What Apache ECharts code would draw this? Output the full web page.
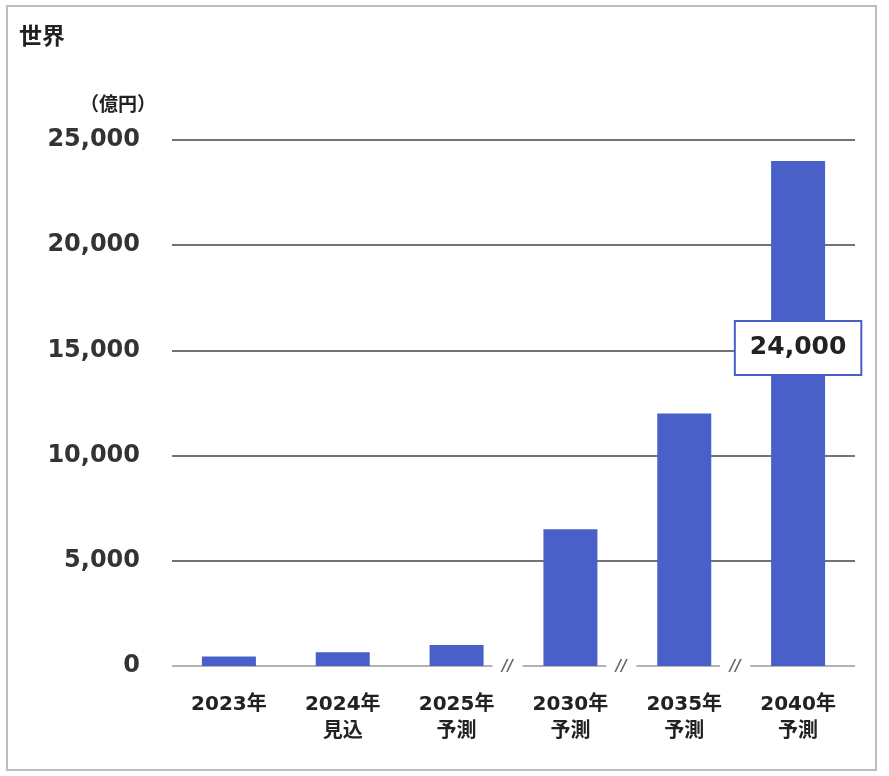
<!DOCTYPE html>
<html>
<head>
<meta charset="utf-8">
<script src="https://cdn.jsdelivr.net/npm/echarts@6/dist/echarts.min.js"></script>
<style>
  html, body { margin: 0; padding: 0; background: #fff; }
  #container { width: 889px; height: 776px; }
</style>
</head>
<body>
<div id="container"></div>
<script>
var categories = ['2023年', '2024年\n見込', '2025年\n予測', '2030年\n予測', '2035年\n予測', '2040年\n予測'];
var values = [450, 650, 1000, 6500, 12000, 24000];
var breakAfter = [2, 3, 4]; // axis break marks between these and the next category
var labelIndex = 5;

var FONT = "'DejaVu Sans', 'Noto Sans CJK JP', sans-serif";
var BAR = '#4a60c9';

var dom = document.getElementById('container');
var myChart = echarts.init(dom, null, { renderer: 'canvas' });

var barData = values.map(function (v, i) {
    if (i !== labelIndex) return v;
    return {
        value: v,
        label: {
            show: true,
            position: ['50%', '37%'],
            align: 'center',
            verticalAlign: 'middle',
            formatter: function (p) { return p.value.toLocaleString('en-US'); },
            fontFamily: FONT,
            fontWeight: 'bold',
            fontSize: 25,
            color: '#222',
            backgroundColor: '#fff',
            borderColor: BAR,
            borderWidth: 2,
            padding: [14, 14, 13, 14]
        }
    };
});

myChart.setOption({
    animation: false,
    title: {
        text: '世界',
        left: 14,
        top: 22,
        textStyle: { fontFamily: FONT, fontWeight: 'bold', fontSize: 23, color: '#222' }
    },
    grid: { left: 172, right: 34, top: 140, bottom: 110 },
    xAxis: {
        type: 'category',
        data: categories,
        axisLine: { show: false },
        axisTick: { show: false },
        axisLabel: {
            margin: 25,
            interval: 0,
            fontFamily: FONT,
            fontWeight: 'bold',
            fontSize: 20,
            lineHeight: 27,
            color: '#222'
        }
    },
    yAxis: {
        type: 'value',
        min: 0,
        max: 25000,
        interval: 5000,
        name: '（億円）',
        nameLocation: 'end',
        nameGap: 24,
        nameTextStyle: {
            fontFamily: FONT,
            fontWeight: 'bold',
            fontSize: 19,
            color: '#222',
            align: 'right',
            padding: [0, 16, 0, 0]
        },
        axisLine: { show: false },
        axisTick: { show: false },
        axisLabel: {
            margin: 32,
            fontFamily: FONT,
            fontWeight: 'bold',
            fontSize: 24,
            color: '#333',
            formatter: function (v) { return v.toLocaleString('en-US'); }
        },
        splitLine: {
            lineStyle: { color: ['#9a9a9a', '#444', '#444', '#444', '#444', '#444'], width: 1.5 }
        }
    },
    series: [{
        type: 'bar',
        data: barData,
        barWidth: 54,
        itemStyle: { color: BAR },
        z: 3
    }]
});

// border frame and axis break marks, placed through the axis scales
function drawExtras() {
    var elements = [{
        type: 'rect',
        shape: { x: 7, y: 6, width: 869, height: 764 },
        style: { fill: 'none', stroke: '#bdbdbd', lineWidth: 2 },
        silent: true
    }];
    breakAfter.forEach(function (i) {
        var a = myChart.convertToPixel({ xAxisIndex: 0, yAxisIndex: 0 }, [i, 0]);
        var b = myChart.convertToPixel({ xAxisIndex: 0, yAxisIndex: 0 }, [i + 1, 0]);
        var x = (a[0] + b[0]) / 2 - 6;
        var y = a[1];
        elements.push({
            type: 'rect',
            shape: { x: x - 15, y: y - 3, width: 30, height: 6 },
            style: { fill: '#fff' },
            z: 10
        });
        elements.push({
            type: 'text',
            x: x,
            y: y + 1,
            style: {
                text: '//',
                fontFamily: FONT,
                fontStyle: 'italic',
                fontWeight: 'bold',
                fontSize: 15,
                fill: '#666',
                align: 'center',
                verticalAlign: 'middle'
            },
            z: 11
        });
    });
    myChart.setOption({ graphic: elements });
}
drawExtras();

window.addEventListener('resize', function () {
    myChart.resize();
    drawExtras();
});
</script>
</body>
</html>
